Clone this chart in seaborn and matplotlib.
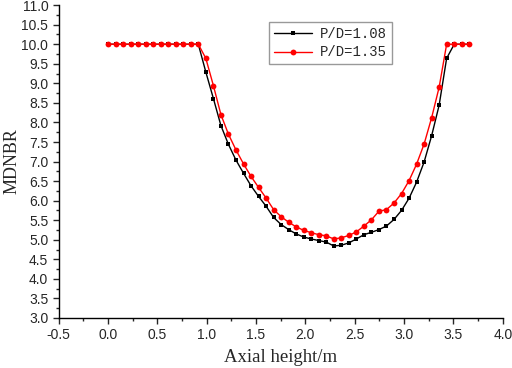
import numpy as np
import pandas as pd
import seaborn as sns
import matplotlib.pyplot as plt
from matplotlib.ticker import MultipleLocator

# axial positions (m)
axial_height = [0.000, 0.076, 0.153, 0.229, 0.305, 0.381, 0.458, 0.534, 0.610,
                0.686, 0.763, 0.839, 0.915, 0.991, 1.068, 1.144, 1.220, 1.296,
                1.373, 1.449, 1.525, 1.601, 1.678, 1.754, 1.830, 1.906, 1.983,
                2.059, 2.135, 2.211, 2.288, 2.364, 2.440, 2.516, 2.593, 2.669,
                2.745, 2.821, 2.898, 2.974, 3.050, 3.126, 3.203, 3.279, 3.355,
                3.431, 3.508, 3.584, 3.660]

mdnbr_108 = [10, 10, 10, 10, 10, 10, 10, 10, 10, 10, 10, 10, 10,
             9.29, 8.61, 7.92, 7.44, 7.04, 6.70, 6.38, 6.11, 5.86, 5.57,
             5.39, 5.26, 5.15, 5.07, 5.02, 4.98, 4.94, 4.84, 4.86, 4.92,
             5.02, 5.13, 5.19, 5.26, 5.35, 5.52, 5.75, 6.06, 6.47, 6.99,
             7.66, 8.44, 9.64, 10, 10, 10]

mdnbr_135 = [10, 10, 10, 10, 10, 10, 10, 10, 10, 10, 10, 10, 10,
             9.64, 8.94, 8.20, 7.70, 7.30, 6.94, 6.62, 6.34, 6.07, 5.77,
             5.59, 5.45, 5.33, 5.24, 5.18, 5.13, 5.10, 5.02, 5.05, 5.11,
             5.20, 5.35, 5.51, 5.73, 5.77, 5.94, 6.18, 6.51, 6.93, 7.45,
             8.12, 8.90, 10, 10, 10, 10]

labels = ['P/D=1.08', 'P/D=1.35']

sns.set_style('ticks')
plt.rcParams['font.family'] = ['Liberation Sans', 'DejaVu Sans']

fig = plt.figure(figsize=(5.12, 3.68), dpi=100)
ax = fig.add_axes([0.1146, 0.136, 0.8674, 0.85])

sns.lineplot(x=axial_height, y=mdnbr_108, ax=ax, color='black', marker='s',
             markersize=3.2, markeredgewidth=0, linewidth=1, label=labels[0])
sns.lineplot(x=axial_height, y=mdnbr_135, ax=ax, color='red', marker='o',
             markersize=4.2, markeredgewidth=0, linewidth=1, label=labels[1])

ax.set_xlim(-0.5, 4.0)
ax.set_ylim(3.0, 11.0)
ax.xaxis.set_major_locator(MultipleLocator(0.5))
ax.xaxis.set_minor_locator(MultipleLocator(0.25))
ax.yaxis.set_major_locator(MultipleLocator(0.5))
ax.yaxis.set_minor_locator(MultipleLocator(0.25))
ax.xaxis.set_major_formatter(plt.FormatStrFormatter('%.1f'))
ax.yaxis.set_major_formatter(plt.FormatStrFormatter('%.1f'))
ax.tick_params(which='major', length=4, width=1, labelsize=10, direction='out')
ax.tick_params(which='minor', length=2, width=1, direction='out')

ax.spines['top'].set_visible(False)
ax.spines['right'].set_visible(False)
for s in ['left', 'bottom']:
    ax.spines[s].set_color('black')
    ax.spines[s].set_linewidth(1)

ax.set_xlabel('Axial height/m', fontsize=13.5, family='Liberation Serif', va='center')
ax.set_ylabel('MDNBR', fontsize=13, family='Liberation Serif', va='center')
ax.xaxis.set_label_coords(0.5, -0.125)
ax.yaxis.set_label_coords(-0.104, 0.5)

leg = ax.legend(loc='upper left', bbox_to_anchor=(0.474, 0.945), frameon=True,
                fancybox=False, edgecolor='gray', handlelength=2.7,
                borderpad=0.35, labelspacing=0.3, handletextpad=0.6,
                borderaxespad=0,
                prop={'family': 'Liberation Mono', 'size': 10})
leg.get_frame().set_linewidth(1)

fig.savefig('out.png', dpi=100)
